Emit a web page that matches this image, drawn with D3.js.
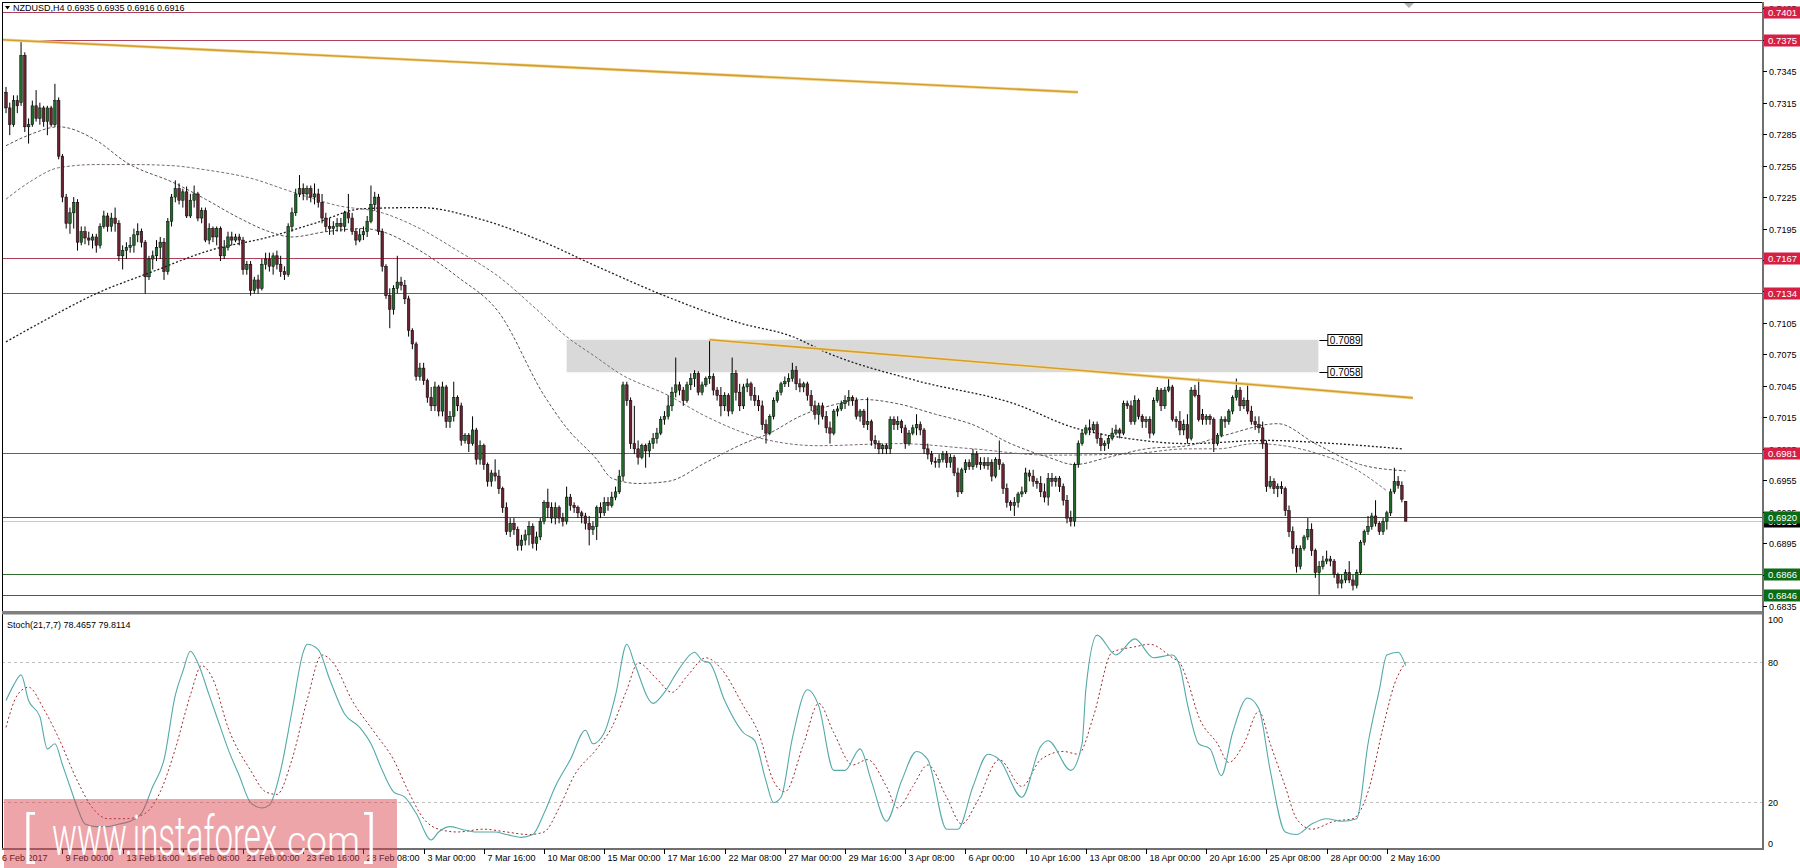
<!DOCTYPE html>
<html><head><meta charset="utf-8">
<script src="https://cdn.jsdelivr.net/npm/d3@7/dist/d3.min.js"></script>
<style>html,body{margin:0;padding:0;background:#fff;overflow:hidden}svg{display:block}</style>
</head><body><svg id="c" width="1800" height="868"></svg>
<script>
// ---------- DATA (prices in units of 0.0001) ----------
const PIP = 1e-4;
const opens = [
7325,7310,7294,7317,7315,7360,7292,7294,7312,7300,
7310,7297,7310,7294,7317,7264,7225,7200,7210,7220,
7182,7192,7186,7184,7187,7179,7197,7207,7197,7205,
7200,7169,7174,7177,7179,7189,7192,7182,7149,7166,
7169,7177,7182,7154,7202,7225,7233,7222,7230,7207,
7222,7228,7205,7212,7184,7195,7187,7195,7169,7177,
7187,7184,7187,7184,7156,7161,7136,7146,7138,7161,
7166,7159,7169,7161,7154,7151,7197,7210,7228,7233,
7228,7233,7225,7228,7220,7205,7197,7195,7197,7200,
7197,7210,7205,7192,7184,7189,7192,7202,7218,7225,
7192,7159,7131,7118,7138,7144,7141,7128,7098,7085,
7054,7062,7050,7034,7026,7044,7021,7044,7011,7016,
7034,7026,6993,6998,6990,7003,6975,6988,6970,6954,
6962,6959,6947,6929,6906,6914,6908,6893,6898,6903,
6911,6895,6901,6916,6934,6929,6919,6929,6919,6916,
6939,6931,6929,6924,6921,6914,6908,6911,6929,6924,
6934,6931,6939,6944,6959,7046,7031,6990,6985,6977,
6988,6983,6990,6995,7000,7013,7016,7026,7039,7046,
7041,7031,7046,7052,7057,7039,7046,7052,7054,7041,
7036,7026,7036,7021,7057,7039,7026,7044,7047,7036,
7031,7026,7008,7000,7016,7031,7039,7047,7049,7052,
7060,7047,7044,7047,7036,7026,7018,7026,7016,7005,
7000,7021,7023,7028,7031,7034,7031,7016,7021,7008,
7011,6993,6990,6985,6988,6985,7013,7008,7011,7005,
6990,7000,7005,7008,7003,6985,6980,6973,6972,6975,
6980,6972,6977,6962,6944,6965,6972,6968,6980,6970,
6972,6969,6972,6959,6975,6970,6947,6934,6931,6934,
6942,6944,6962,6959,6954,6952,6944,6939,6957,6954,
6957,6949,6936,6919,6916,6970,6990,7000,7005,7003,
7008,6995,6988,6990,6995,7000,7003,7000,7028,7026,
7011,7031,7016,7011,7013,7000,7031,7041,7026,7041,
7044,7013,7011,7003,7008,6995,7041,7036,7018,7013,
7016,7013,6990,6998,7013,7011,7021,7034,7041,7026,
7031,7021,7011,7008,7005,6990,6949,6954,6947,6949,
6947,6926,6906,6890,6873,6890,6901,6908,6888,6867,
6873,6878,6880,6878,6865,6857,6860,6867,6860,6855,
6867,6896,6906,6911,6921,6914,6906,6916,6924,6944,
6954,6950,6935];
const highs = [
7330,7315,7322,7322,7373,7363,7300,7317,7327,7315,
7312,7312,7312,7333,7320,7266,7228,7215,7225,7223,
7197,7197,7192,7190,7190,7200,7212,7210,7210,7215,
7203,7179,7182,7187,7195,7200,7195,7184,7169,7174,
7184,7187,7186,7205,7228,7241,7238,7233,7235,7228,
7236,7230,7215,7215,7200,7197,7197,7197,7184,7192,
7192,7190,7190,7187,7164,7164,7149,7151,7166,7172,
7172,7172,7174,7169,7159,7200,7215,7233,7246,7238,
7236,7236,7238,7233,7228,7210,7205,7202,7205,7205,
7212,7228,7210,7195,7195,7197,7207,7236,7230,7228,
7195,7161,7138,7141,7169,7149,7146,7131,7100,7087,
7067,7067,7052,7044,7049,7046,7049,7046,7021,7049,
7036,7029,7000,7000,7016,7005,6993,6990,6972,6965,
6975,6965,6949,6934,6919,6919,6911,6903,6908,6916,
6914,6906,6919,6936,6947,6934,6934,6931,6924,6949,
6942,6934,6931,6926,6924,6921,6916,6931,6934,6939,
6939,6944,6949,6965,7049,7049,7034,7026,6993,6990,
6990,6993,7000,7005,7016,7021,7036,7044,7072,7049,
7044,7049,7057,7060,7059,7049,7054,7088,7057,7044,
7044,7039,7038,7072,7060,7047,7047,7052,7049,7044,
7036,7031,7013,7018,7034,7041,7049,7054,7057,7067,
7064,7052,7049,7049,7041,7031,7029,7029,7021,7011,
7023,7026,7031,7036,7041,7036,7034,7023,7023,7034,
7013,6998,6993,6990,6990,7016,7016,7016,7013,7008,
7003,7008,7018,7011,7005,6990,6983,6977,6980,6983,
6983,6980,6979,6967,6967,6975,6975,6985,6983,6977,
6977,6977,6975,6977,6993,6972,6952,6936,6939,6944,
6949,6967,6965,6965,6957,6959,6952,6962,6962,6959,
6959,6952,6941,6926,6972,6993,7003,7008,7013,7011,
7011,7000,6993,6998,7005,7008,7005,7031,7031,7031,
7036,7033,7018,7016,7016,7034,7044,7043,7044,7052,
7046,7016,7021,7013,7018,7044,7046,7052,7023,7018,
7018,7015,7000,7016,7016,7023,7036,7052,7044,7034,
7047,7026,7016,7016,7011,6993,6959,6957,6952,6954,
6949,6931,6911,6893,6893,6903,6919,6914,6890,6878,
6883,6888,6883,6880,6867,6865,6870,6878,6865,6870,
6898,6908,6921,6924,6936,6916,6919,6926,6947,6967,
6959,6954,6935];
const lows = [
7305,7284,7292,7305,7312,7287,7276,7292,7297,7294,
7292,7284,7292,7292,7261,7220,7195,7190,7195,7174,
7179,7180,7179,7176,7172,7176,7195,7192,7192,7192,
7164,7156,7166,7172,7172,7182,7177,7133,7146,7156,
7164,7166,7146,7151,7197,7220,7218,7215,7205,7205,
7215,7202,7200,7182,7180,7182,7179,7164,7166,7174,
7179,7182,7179,7151,7151,7131,7133,7133,7136,7156,
7154,7151,7156,7149,7146,7149,7192,7207,7225,7222,
7222,7220,7218,7215,7200,7192,7189,7189,7192,7192,
7192,7200,7189,7179,7182,7184,7187,7200,7212,7189,
7154,7128,7100,7113,7133,7136,7123,7092,7080,7050,
7050,7046,7029,7021,7021,7016,7016,7005,7005,7011,
7021,6988,6990,6982,6988,6970,6970,6965,6949,6949,
6954,6942,6924,6903,6901,6903,6888,6888,6893,6893,
6890,6888,6898,6913,6919,6914,6913,6914,6911,6913,
6926,6924,6919,6914,6908,6893,6903,6898,6919,6921,
6926,6929,6936,6942,6954,7026,6985,6980,6970,6975,
6967,6977,6985,6990,6998,7008,7013,7021,7034,7036,
7026,7029,7041,7044,7036,7036,7044,7047,7036,7031,
7016,7021,7016,7018,7031,7021,7023,7039,7031,7026,
7021,7003,6990,6998,7013,7029,7036,7044,7044,7049,
7041,7039,7039,7031,7021,7013,7008,7013,7000,6990,
6998,7016,7021,7023,7026,7026,7013,7011,7005,7003,
6988,6985,6980,6980,6980,6980,7003,7003,7000,6985,
6988,6998,6998,6998,6980,6975,6970,6967,6967,6972,
6967,6967,6959,6939,6942,6962,6965,6965,6967,6965,
6966,6965,6954,6957,6965,6942,6929,6926,6921,6929,
6939,6942,6954,6949,6947,6939,6934,6931,6949,6949,
6944,6931,6914,6911,6911,6967,6988,6998,6998,7000,
6990,6983,6983,6985,6993,6998,6995,6998,7023,7008,
7008,7013,7005,7005,6995,6998,7029,7021,7023,7039,
7011,7005,6998,6998,6990,6993,7034,7011,7008,7008,
7008,6982,6988,6996,7005,7008,7018,7031,7021,7023,
7018,7008,7003,7000,6985,6944,6947,6942,6939,6942,
6921,6901,6885,6867,6870,6888,6898,6883,6862,6846,
6870,6875,6873,6862,6852,6852,6857,6857,6850,6852,
6865,6893,6903,6908,6911,6903,6903,6908,6921,6942,
6947,6934,6916];
const closes = [
7310,7294,7317,7312,7360,7292,7294,7312,7300,7310,
7297,7310,7294,7317,7264,7225,7200,7210,7220,7182,
7192,7186,7184,7187,7179,7197,7207,7197,7205,7200,
7169,7174,7177,7179,7189,7192,7182,7149,7166,7169,
7177,7182,7154,7202,7225,7233,7222,7230,7207,7222,
7228,7205,7212,7184,7195,7187,7195,7169,7177,7187,
7184,7187,7184,7156,7161,7136,7146,7138,7161,7166,
7159,7169,7161,7154,7151,7197,7210,7228,7233,7228,
7233,7225,7228,7220,7205,7197,7195,7197,7200,7197,
7210,7205,7192,7184,7189,7192,7202,7218,7225,7192,
7159,7131,7118,7138,7144,7141,7128,7098,7085,7054,
7062,7050,7034,7026,7044,7021,7044,7011,7016,7034,
7026,6993,6998,6990,7003,6975,6988,6970,6954,6962,
6959,6947,6929,6906,6914,6908,6893,6898,6903,6911,
6895,6901,6916,6934,6929,6919,6929,6919,6916,6939,
6931,6929,6924,6921,6914,6908,6911,6929,6924,6934,
6931,6939,6944,6959,7046,7031,6990,6985,6977,6988,
6983,6990,6995,7000,7013,7016,7026,7039,7046,7041,
7031,7046,7052,7057,7039,7046,7052,7054,7041,7036,
7026,7036,7021,7057,7039,7026,7044,7047,7036,7031,
7026,7008,7000,7016,7031,7039,7047,7049,7052,7060,
7047,7044,7047,7036,7026,7018,7026,7016,7005,7000,
7021,7023,7028,7031,7034,7031,7016,7021,7008,7011,
6993,6990,6985,6988,6985,7013,7008,7011,7005,6990,
7000,7005,7008,7003,6985,6980,6973,6972,6975,6980,
6972,6977,6962,6944,6965,6972,6968,6980,6970,6972,
6969,6972,6959,6975,6970,6947,6934,6931,6934,6942,
6944,6962,6959,6954,6952,6944,6939,6957,6954,6957,
6949,6936,6919,6916,6970,6990,7000,7005,7003,7008,
6995,6988,6990,6995,7000,7003,7000,7028,7026,7011,
7031,7016,7011,7013,7000,7031,7041,7026,7041,7044,
7013,7011,7003,7008,6995,7041,7036,7013,7013,7016,
7013,6990,6998,7013,7011,7021,7034,7041,7026,7031,
7021,7011,7008,7005,6990,6949,6954,6947,6949,6947,
6926,6906,6890,6873,6890,6901,6908,6888,6867,6873,
6878,6880,6878,6865,6857,6860,6867,6860,6855,6867,
6896,6906,6911,6921,6914,6906,6916,6924,6944,6954,
6950,6937,6916];

// moving averages: bar index + value
const maFastBars = [0,6,14,24,32,45,53,62,70,76,85,95,100,110,120,131,143,149,157,161,168,176,186,196,203,211,220,228,237,247,257,267,277,284,293,303,314,324,338,348,360,372];
const maFastVals = [.7274,.7284,.7292,.7279,.7258,.7238,.7223,.7205,.7192,.7187,.7192,.7195,.7192,.7174,.7149,.7115,.7036,.7005,.6975,.6957,.6952,.6954,.6972,.6990,.7000,.7016,.7027,.7032,.7028,.7018,.7008,.6990,.6977,.6970,.6977,.6985,.6988,.6998,.7009,.6990,.6970,.6964];
const maMidBars = [0,7,14,24,34,44,53,65,76,88,100,110,120,131,141,149,157,163,176,186,203,216,237,257,277,298,314,322,332,349,358,367];
const maMidVals = [.7223,.7241,.7253,.7256,.7256,.7255,.7251,.7243,.7230,.7217,.7210,.7195,.7174,.7149,.7118,.7092,.7072,.7057,.7036,.7016,.6993,.6988,.6990,.6985,.6979,.6980,.6985,.6985,.6990,.6980,.6967,.6945];
const maSlowBars = [0,9,24,39,54,70,82,95,110,126,141,157,175,195,209,218,242,268,284,298,314,335,353,371];
const maSlowVals = [.7087,.7105,.7133,.7154,.7174,.7187,.7200,.7214,.7215,.7204,.7185,.7159,.7131,.7105,.7092,.7077,.7050,.7028,.7005,.6995,.6990,.6993,.6990,.6985];

// Stochastic(21,7,7): main and signal, bar index + value
const stochBars = [0,2,4,6,9,11,13,15,17,19,21,24,27,30,33,36,39,42,45,47,49,51,54,57,59,62,65,68,70,73,76,79,80,83,86,90,94,97,100,103,106,109,113,115,118,121,125,130,133,137,140,143,146,150,154,156,159,162,165,167,172,175,179,183,185,187,191,196,199,202,204,206,209,213,216,220,223,227,230,234,238,242,245,250,253,257,261,264,270,275,277,283,286,287,290,295,300,305,310,312,314,317,320,323,326,330,333,336,340,343,347,351,355,359,362,365,367,370,372];
const stochMain = [63.5,70,74.5,63.5,56.6,42.8,45,36,26.7,17.5,10.6,9.5,9.5,10.6,11.8,15.2,26.7,38.2,65.8,76,84.6,79.6,65.8,52,42.8,31.3,19.8,17.5,18.7,33.6,58.9,84.2,87.6,85.3,72.7,57.7,52,45,33.6,24.4,22.1,15.2,3.8,7.2,9.5,8.4,7.2,7.2,6.1,4.9,6.1,15.2,26.7,38.2,50.8,45,49.7,65.8,87.6,79.6,62.3,67,77.3,84.2,80.7,79.6,63.5,49.7,46.3,29,19.8,22.1,47.4,68.1,61.2,33.6,33.6,42.8,29,11.8,29,41.7,38.2,8.4,8.4,26.7,40.5,38.2,22.1,43.9,46.3,33.6,45,68.1,91.5,83,89.9,81.8,83,78,62,45,42.8,31.3,49.7,64.6,60,33.6,7.2,6.1,10.6,12.9,11.8,12.9,45,68.1,83,84.2,78.47];
const signalBars = [0,3,6,10,14,19,23,27,32,37,41,45,49,52,55,59,65,69,72,76,80,84,87,92,98,103,107,111,115,120,127,133,139,143,147,151,157,161,165,168,173,177,181,186,190,196,200,204,207,212,216,220,225,229,234,237,241,245,250,254,258,264,270,275,281,285,289,294,300,304,310,312,314,317,322,325,329,333,336,340,343,347,353,358,362,366,369,372];
const signalVals = [52,65.8,69.2,60,47.4,29,17.5,12.9,12.9,15.2,24.4,42.8,65.8,78.4,72.7,52,33.6,24.4,23.3,38.2,63.5,83,79.6,63.5,49.7,38.2,24.4,12.9,8.4,7.2,8.4,7.2,6.1,7.2,17.5,31.3,42.8,52,68.1,79.6,72.7,67,73.9,81.8,77.3,61.2,49.7,29,24.4,45,62.3,49.7,35.9,38.2,26.7,17.5,26.7,35.9,22.1,10.6,19.8,38.2,26.7,38.2,41.7,40.5,56.6,84.2,86.5,87.6,81.8,79.6,72,56.6,45,37,45,58.9,45,26.7,12.9,8.4,11.8,12.9,24.4,52,70.4,79.81];

// horizontal levels and drawn objects
const redLevels = [0.7401, 0.7375, 0.7167, 0.7134, 0.6981];
const greenLevels = [0.6920, 0.6866, 0.6846];
const bidPrice = 0.6916;
const priceTicks = [0.6835,0.6865,0.6895,0.6925,0.6955,0.6985,0.7015,0.7045,0.7075,0.7105,0.7135,0.7165,0.7195,0.7225,0.7255,0.7285,0.7315,0.7345,0.7375,0.7405];
const zoneBars = [149, 348.8];
const zonePrices = [0.7089, 0.7058];
const trend1Bars = [-1.1, 284.9], trend1Prices = [0.7375, 0.7325];
const trend2Bars = [187, 373.9], trend2Prices = [0.7089, 0.70336];
const stochLevels = [80, 20];
const stochTicks = [100, 80, 20, 0];
const tickBars = [0,15,31,47,63,79,95,111,127,143,159,175,191,207,223,239,255,271,287,303,319,335,351,367];
const tickLabels = ["6 Feb 2017","9 Feb 00:00","13 Feb 16:00","16 Feb 08:00","21 Feb 00:00","23 Feb 16:00","28 Feb 08:00","3 Mar 00:00","7 Mar 16:00","10 Mar 08:00","15 Mar 00:00","17 Mar 16:00","22 Mar 08:00","27 Mar 00:00","29 Mar 16:00","3 Apr 08:00","6 Apr 00:00","10 Apr 16:00","13 Apr 08:00","18 Apr 00:00","20 Apr 16:00","25 Apr 08:00","28 Apr 00:00","2 May 16:00"];
const titleText = "NZDUSD,H4  0.6935 0.6935 0.6916 0.6916";
const stochTitle = "Stoch(21,7,7) 78.4657 79.8114";

// ---------- LAYOUT ----------
const svg = d3.select("#c");
const L = 2, R = 1763, mainTop = 2, mainBot = 611, stTop = 615, stBot = 849;
const FONT = "Liberation Sans, Arial, sans-serif";
const x = d3.scaleLinear().domain([0, 372]).range([6, 6 + 372 * 3.7625]);
const y = d3.scaleLinear().domain([0.6835, 0.7345]).range([606.2, 71.2]);
const ys = d3.scaleLinear().domain([0, 100]).range([848.8, 615.3]);

svg.append("rect").attr("width", 1800).attr("height", 868).attr("fill", "#fff");
const defs = svg.append("defs");
defs.append("clipPath").attr("id", "cm").append("rect").attr("x", L).attr("y", mainTop).attr("width", R - L).attr("height", mainBot - mainTop);
defs.append("clipPath").attr("id", "cs").append("rect").attr("x", L).attr("y", stTop).attr("width", R - L).attr("height", stBot - stTop);

const main = svg.append("g").attr("clip-path", "url(#cm)");

// zone
main.append("rect").attr("x", x(zoneBars[0])).attr("width", x(zoneBars[1]) - x(zoneBars[0]))
  .attr("y", y(zonePrices[0])).attr("height", y(zonePrices[1]) - y(zonePrices[0])).attr("fill", "#d9d9d9");

// levels
redLevels.forEach(p => main.append("line").attr("x1", L).attr("x2", R).attr("y1", Math.round(y(p)) + 0.5).attr("y2", Math.round(y(p)) + 0.5).attr("stroke", "#b0405a").attr("stroke-width", 1));
main.append("line").attr("x1", L).attr("x2", R).attr("y1", Math.round(y(bidPrice)) + 0.5).attr("y2", Math.round(y(bidPrice)) + 0.5).attr("stroke", "#c8c8c8").attr("stroke-width", 1);
greenLevels.forEach(p => main.append("line").attr("x1", L).attr("x2", R).attr("y1", Math.round(y(p)) + 0.5).attr("y2", Math.round(y(p)) + 0.5).attr("stroke", "#2f6e2f").attr("stroke-width", 1));

// moving averages
const maLine = d3.line().x(d => x(d[0])).y(d => y(d[1])).curve(d3.curveMonotoneX);
main.append("path").attr("d", maLine(maSlowBars.map((b, i) => [b, maSlowVals[i]]))).attr("fill", "none").attr("stroke", "#202020").attr("stroke-width", 1.3).attr("stroke-dasharray", "2,2");
main.append("path").attr("d", maLine(maMidBars.map((b, i) => [b, maMidVals[i]]))).attr("fill", "none").attr("stroke", "#7a6a78").attr("stroke-width", 1).attr("stroke-dasharray", "3,2");
main.append("path").attr("d", maLine(maFastBars.map((b, i) => [b, maFastVals[i]]))).attr("fill", "none").attr("stroke", "#555").attr("stroke-width", 1).attr("stroke-dasharray", "3,2");

// candles
const bars = d3.range(opens.length).map(i => ({ i, o: opens[i] * PIP, h: highs[i] * PIP, l: lows[i] * PIP, c: closes[i] * PIP }));
const cg = main.append("g");
cg.selectAll("line").data(bars).join("line")
  .attr("x1", d => x(d.i)).attr("x2", d => x(d.i)).attr("y1", d => y(d.h)).attr("y2", d => y(d.l))
  .attr("stroke", "#000").attr("stroke-width", 1);
cg.selectAll("rect").data(bars).join("rect")
  .attr("x", d => x(d.i) - 1.3).attr("width", 2.6)
  .attr("y", d => y(Math.max(d.o, d.c))).attr("height", d => Math.max(1, Math.abs(y(d.o) - y(d.c))))
  .attr("fill", d => d.c >= d.o ? "#1f6a28" : "#6a2230").attr("stroke", "#000").attr("stroke-width", 0.5);

// trend lines
[[trend1Bars, trend1Prices], [trend2Bars, trend2Prices]].forEach(([b, p]) => {
  main.append("line").attr("x1", x(b[0])).attr("x2", x(b[1])).attr("y1", y(p[0])).attr("y2", y(p[1]))
    .attr("stroke", "#f3dca0").attr("stroke-width", 3.2);
  main.append("line").attr("x1", x(b[0])).attr("x2", x(b[1])).attr("y1", y(p[0])).attr("y2", y(p[1]))
    .attr("stroke", "#d49e30").attr("stroke-width", 1.6);
});

// zone price labels
zonePrices.forEach(p => {
  const yy = Math.round(y(p)) + 0.5, x0 = x(zoneBars[1]);
  svg.append("line").attr("x1", x0 + 1).attr("x2", x0 + 10).attr("y1", yy).attr("y2", yy).attr("stroke", "#000");
  svg.append("rect").attr("x", x0 + 9.5).attr("y", yy - 6).attr("width", 34).attr("height", 11).attr("fill", "#fff").attr("stroke", "#000").attr("stroke-width", 1);
  svg.append("text").attr("x", x0 + 11.5).attr("y", yy + 3.5).attr("font-family", FONT).attr("font-size", 10).attr("fill", "#000").text(p.toFixed(4));
});

// title & shift marker
svg.append("path").attr("d", "M5,6 L10,6 L7.5,9.5 Z").attr("fill", "#000");
svg.append("text").attr("x", 13).attr("y", 11).attr("font-family", FONT).attr("font-size", 9).attr("fill", "#000").text(titleText);
svg.append("path").attr("d", "M1404,3 L1414,3 L1409,8 Z").attr("fill", "#b0b0b0");

// ---------- STOCH PANEL ----------
const st = svg.append("g").attr("clip-path", "url(#cs)");
stochLevels.forEach(v => st.append("line").attr("x1", L).attr("x2", R).attr("y1", Math.round(ys(v)) + 0.5).attr("y2", Math.round(ys(v)) + 0.5)
  .attr("stroke", "#c0c0c0").attr("stroke-dasharray", "3,3"));
const sLine = d3.line().x(d => x(d[0])).y(d => ys(d[1])).curve(d3.curveMonotoneX);
st.append("path").attr("d", sLine(signalBars.map((b, i) => [b, signalVals[i]]))).attr("fill", "none").attr("stroke", "#9a2a2a").attr("stroke-width", 1).attr("stroke-dasharray", "2,2.5");
st.append("path").attr("d", sLine(stochBars.map((b, i) => [b, stochMain[i]]))).attr("fill", "none").attr("stroke", "#55a9a9").attr("stroke-width", 1.1);
svg.append("text").attr("x", 7).attr("y", 628).attr("font-family", FONT).attr("font-size", 9).attr("fill", "#000").text(stochTitle);

// ---------- FRAME ----------
svg.append("line").attr("x1", L + 0.5).attr("x2", L + 0.5).attr("y1", mainTop).attr("y2", stBot).attr("stroke", "#000");
svg.append("line").attr("x1", L).attr("x2", R).attr("y1", mainTop + 0.5).attr("y2", mainTop + 0.5).attr("stroke", "#000");
svg.append("rect").attr("x", L).attr("y", mainBot).attr("width", R - L + 1).attr("height", 3.5).attr("fill", "#808080");
svg.append("line").attr("x1", R).attr("x2", R).attr("y1", mainTop).attr("y2", stBot + 1).attr("stroke", "#707070").attr("stroke-width", 2);
svg.append("line").attr("x1", L).attr("x2", R + 1).attr("y1", stBot).attr("y2", stBot).attr("stroke", "#707070").attr("stroke-width", 2);

// price axis
const pax = svg.append("g");
priceTicks.forEach(p => {
  const yy = Math.round(y(p)) + 0.5;
  pax.append("line").attr("x1", R).attr("x2", R + 4).attr("y1", yy).attr("y2", yy).attr("stroke", "#000");
  pax.append("text").attr("x", R + 6).attr("y", yy + 3.2).attr("font-family", FONT).attr("font-size", 9).attr("fill", "#000").text(p.toFixed(4));
});
function levelLabel(p, fill) {
  const yy = Math.round(y(p)) + 0.5;
  pax.append("rect").attr("x", R + 1).attr("y", yy - 6).attr("width", 36).attr("height", 12).attr("fill", fill);
  pax.append("text").attr("x", R + 5).attr("y", yy + 3.5).attr("font-family", FONT).attr("font-size", 9.5).attr("fill", "#fff").text(p.toFixed(4));
}
levelLabel(bidPrice, "#000");
redLevels.forEach(p => levelLabel(p, "#d51f45"));
greenLevels.forEach(p => levelLabel(p, "#0b6b16"));

// stoch axis
stochTicks.forEach(v => {
  const yy = Math.round(ys(v)) + 0.5;
  const ty = v === 100 ? yy + 7 : (v === 0 ? yy - 3 : yy + 3.2);
  svg.append("text").attr("x", R + 5).attr("y", ty).attr("font-family", FONT).attr("font-size", 9).attr("fill", "#000").text(v);
});

// time axis
tickBars.forEach((b, k) => {
  const xx = Math.round(x(b)) + 0.5;
  if (k > 0) svg.append("line").attr("x1", xx).attr("x2", xx).attr("y1", stBot).attr("y2", stBot + 5).attr("stroke", "#000");
  svg.append("text").attr("x", k === 0 ? L : xx + 3).attr("y", 861).attr("font-family", FONT).attr("font-size", 9).attr("fill", "#000").text(tickLabels[k]);
});

// ---------- WATERMARK ----------
const wm = svg.append("g");
wm.append("rect").attr("x", 4).attr("y", 799).attr("width", 393).attr("height", 69).attr("fill", "#d8404a").attr("opacity", 0.47);
const wt = wm.append("g").attr("fill", "#fff").attr("font-family", "Roboto, 'Open Sans', sans-serif").attr("font-weight", 300);
wt.append("text").attr("x", 22).attr("y", 856).attr("font-size", 54).text("[");
wt.append("text").attr("x", 52).attr("y", 855).attr("font-size", 56).attr("textLength", 225).attr("lengthAdjust", "spacingAndGlyphs").text("www.instaforex");
wt.append("text").attr("x", 278).attr("y", 855).attr("font-size", 40).attr("textLength", 82).attr("lengthAdjust", "spacingAndGlyphs").text(".com");
wt.append("text").attr("x", 364).attr("y", 856).attr("font-size", 54).text("]");
</script></body></html>
